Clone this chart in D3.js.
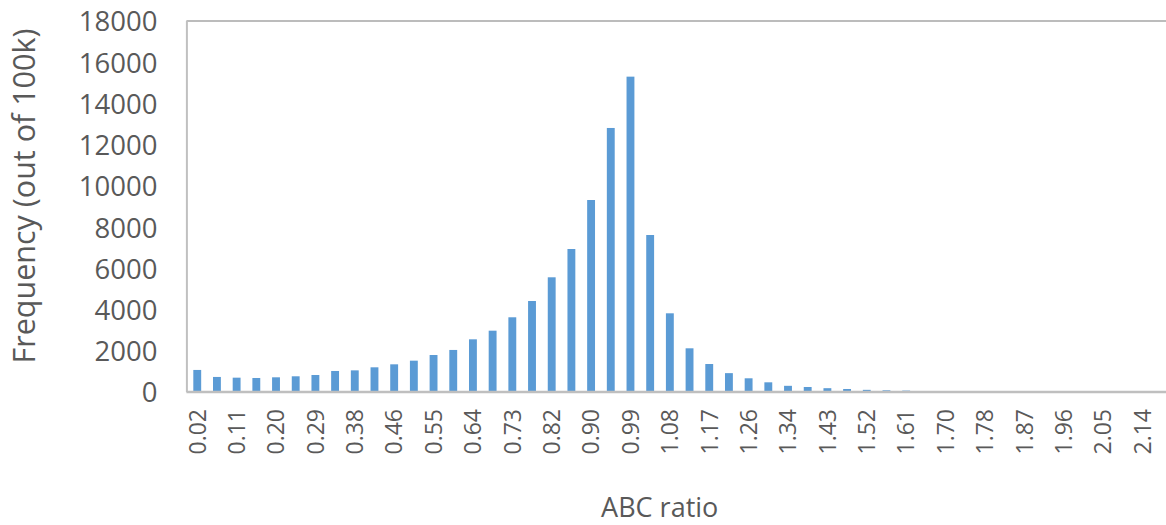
<!DOCTYPE html>
<html>
<head>
<meta charset="utf-8">
<script src="https://cdn.jsdelivr.net/npm/d3@7"></script>
<style>
  html, body { margin: 0; padding: 0; background: #ffffff; }
  svg { display: block; }
  text { font-family: "Open Sans", "Liberation Sans", sans-serif; fill: #595959; }
</style>
</head>
<body>
<svg id="chart" width="1166" height="525"></svg>
<script>
// ---- data ----
const categories = [
  "0.02","0.07","0.11","0.16","0.20","0.24","0.29","0.33","0.38","0.42",
  "0.46","0.51","0.55","0.60","0.64","0.68","0.73","0.77","0.82","0.86",
  "0.90","0.95","0.99","1.04","1.08","1.12","1.17","1.21","1.26","1.30",
  "1.34","1.39","1.43","1.48","1.52","1.57","1.61","1.65","1.70","1.74",
  "1.78","1.83","1.87","1.92","1.96","2.01","2.05","2.09","2.14","2.18"
];
const frequency = [
  1070, 730, 695, 680, 713, 762, 825, 1020, 1050, 1198,
  1343, 1520, 1795, 2040, 2556, 2975, 3625, 4415, 5565, 6938,
  9315, 12810, 15300, 7617, 3818, 2120, 1358, 915, 665, 470,
  300, 243, 185, 146, 105, 82, 68, 48, 40, 30,
  25, 20, 15, 12, 9, 6, 5, 3, 2, 2
];
const yTicks = [0, 2000, 4000, 6000, 8000, 10000, 12000, 14000, 16000, 18000];
const xTickLabels = categories.filter((c, i) => i % 2 === 0);
const xTitle = "ABC ratio";
const yTitle = "Frequency (out of 100k)";

// ---- layout ----
const plot = { left: 187.4, right: 1172, top: 21, bottom: 392 };
const svg = d3.select("#chart");

const x = d3.scaleBand()
  .domain(categories)
  .range([plot.left, plot.right])
  .paddingInner(0.6)
  .paddingOuter(0.3);

const y = d3.scaleLinear()
  .domain([0, 18000])
  .range([plot.bottom, plot.top]);

// bars
svg.append("g")
  .selectAll("rect")
  .data(frequency)
  .join("rect")
  .attr("x", (d, i) => x(categories[i]))
  .attr("width", x.bandwidth())
  .attr("y", d => y(d))
  .attr("height", d => plot.bottom - y(d))
  .attr("fill", "#5b9bd5");

// plot frame: top and left
svg.append("line")
  .attr("x1", plot.left - 1).attr("x2", 1166)
  .attr("y1", plot.top).attr("y2", plot.top)
  .attr("stroke", "#a6a6a6").attr("stroke-width", 1.5);
svg.append("line")
  .attr("x1", plot.left - 0.5).attr("x2", plot.left - 0.5)
  .attr("y1", plot.top).attr("y2", plot.bottom)
  .attr("stroke", "#c0c0c0").attr("stroke-width", 2);

// y axis
const yAxis = svg.append("g")
  .attr("transform", `translate(${plot.left - 30},0)`)
  .call(d3.axisLeft(y).tickValues(yTicks).tickSize(0).tickPadding(0).tickFormat(d3.format("d")));
yAxis.select(".domain").remove();
yAxis.selectAll("text")
  .style("font-size", "27.5px")
  .style("fill", "#595959")
  .attr("dy", "0.36em");

// x axis
const xAxis = svg.append("g")
  .attr("transform", `translate(0,${plot.bottom})`)
  .call(d3.axisBottom(x).tickValues(xTickLabels).tickSize(0).tickPadding(0));
xAxis.select(".domain")
  .attr("stroke", "#bfbfbf").attr("stroke-width", 2.5)
  .attr("d", `M${plot.left - 1},0H1166`);
xAxis.selectAll("text")
  .style("font-size", "23px")
  .style("fill", "#595959")
  .attr("text-anchor", "end")
  .attr("transform", "rotate(-90)")
  .attr("x", -17)
  .attr("y", 0)
  .attr("dy", "0.36em");

// titles
svg.append("text")
  .attr("x", (plot.left + 1166) / 2 - 17)
  .attr("y", 517)
  .attr("text-anchor", "middle")
  .style("font-size", "27px")
  .text(xTitle);

svg.append("text")
  .attr("transform", `translate(35,${196}) rotate(-90)`)
  .attr("text-anchor", "middle")
  .style("font-size", "30.5px")
  .text(yTitle);
</script>
</body>
</html>
